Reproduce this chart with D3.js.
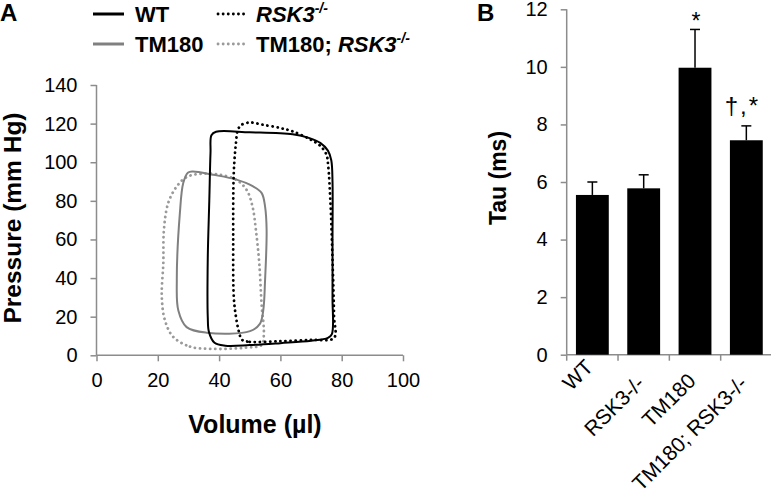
<!DOCTYPE html>
<html>
<head>
<meta charset="utf-8">
<script src="https://cdn.jsdelivr.net/npm/d3@7"></script>
<style>
  html, body { margin: 0; padding: 0; background: #fff; }
  svg { display: block; font-family: "Liberation Sans", Arial, sans-serif; }
</style>
</head>
<body>
<svg id="chart" width="771" height="489"></svg>
<script>
// ---------- Panel A data: pressure-volume loops (volume µl, pressure mm Hg) ----------
const wtLoop = [
  [38.5, 6.5], [42, 5.0], [50, 5.3], [60, 6.3], [70, 7.5], [75.5, 9.0], [76.8, 11],
  [77.0, 30], [77.0, 60], [77.0, 90], [76.6, 101], [75.5, 106], [73, 110], [69.5, 112.5],
  [64, 114.5], [50, 115.5], [39, 115.8], [37.5, 114], [37.2, 105], [36.8, 80],
  [36.3, 50], [36.3, 20], [36.7, 12]
];
const rskLoop = [
  [47.5, 8.0], [50, 7.0], [60, 7.3], [70, 8.0], [77.5, 9.0], [77.5, 20], [77.0, 50],
  [76.3, 80], [75.6, 98], [75, 104], [73, 108.5], [69.5, 112], [64, 116], [60, 117.7],
  [54, 119.5], [50, 120.6], [47, 119], [46, 116], [45.5, 110], [44.8, 95],
  [44.6, 60], [44.8, 30], [45.5, 20], [46.5, 12]
];
const tmLoop = [
  [29.4, 14.6], [35.9, 11.7], [50.1, 12.5], [53.3, 16.3], [54.4, 23.2], [55.0, 39],
  [55.5, 65], [55.0, 77], [53.9, 84], [51.1, 87.5], [45.7, 91], [38.1, 93.5],
  [31.4, 95.2], [29.8, 94.6], [28.3, 89.2], [27.2, 73.6], [26.2, 39], [26.7, 23.2]
];
const tmRskLoop = [
  [25.0, 9.6], [30.5, 4.5], [38.1, 3.3], [49.0, 4.0], [53.9, 5.4], [54.6, 11.4],
  [53.9, 25.3], [53.1, 47.7], [52.0, 65], [50.9, 77], [49.0, 85.6], [45.7, 90.8],
  [40.3, 93.5], [33.8, 94], [29.4, 92.3], [26.2, 87.5], [23.4, 78.9], [22.0, 65],
  [21.8, 47.7], [21.3, 30.4], [22.3, 18.3]
];
const volumeTicks = [0, 20, 40, 60, 80, 100];
const pressureTicks = [0, 20, 40, 60, 80, 100, 120, 140];

// ---------- Panel B data: Tau ----------
const groups = ["WT", "RSK3-/-", "TM180", "TM180; RSK3-/-"];
const tauMean = [5.55, 5.78, 9.97, 7.45];
const tauErr = [0.45, 0.47, 1.33, 0.5];
const tauMarks = ["", "", "*", "†,*"];
const tauTicks = [0, 2, 4, 6, 8, 10, 12];

const svg = d3.select("#chart");
const axisColor = "#8c8c8c";

// ================= Panel A =================
const xA = d3.scaleLinear().domain([0, 100]).range([96.5, 403]);
const yA = d3.scaleLinear().domain([0, 140]).range([355.3, 85]);

const gA = svg.append("g");
const xAxisA = gA.append("g").attr("transform", `translate(0,${yA(0)})`)
  .call(d3.axisBottom(xA).tickValues(volumeTicks).tickSize(6).tickPadding(8));
const yAxisA = gA.append("g").attr("transform", `translate(${xA(0)},0)`)
  .call(d3.axisLeft(yA).tickValues(pressureTicks).tickSize(6).tickPadding(13));
[xAxisA, yAxisA].forEach(ax => {
  ax.select(".domain").attr("stroke", axisColor).attr("stroke-width", 1.5);
  ax.selectAll(".tick line").attr("stroke", axisColor).attr("stroke-width", 1.5);
  ax.selectAll(".tick text").attr("fill", "#000").attr("font-size", 20)
    .attr("font-family", "Liberation Sans, Arial, sans-serif");
});
xAxisA.selectAll(".domain").attr("d", `M${xA(0)},0H${xA(100)}`);
yAxisA.selectAll(".domain").attr("d", `M0,${yA(0)}V${yA(140)}`);
xAxisA.selectAll(".tick text").attr("dy", "0.9em");

const lineA = d3.line().x(d => xA(d[0])).y(d => yA(d[1]))
  .curve(d3.curveCatmullRomClosed.alpha(0.5));

const loops = [
  { data: tmRskLoop, color: "#9a9a9a", dash: "0.1 5" },
  { data: tmLoop, color: "#808080", dash: null },
  { data: rskLoop, color: "#000", dash: "0.1 5" },
  { data: wtLoop, color: "#000", dash: null }
];
loops.forEach(l => {
  const p = gA.append("path").attr("d", lineA(l.data)).attr("fill", "none")
    .attr("stroke", l.color).attr("stroke-width", l.dash ? 2.8 : 2)
    .attr("stroke-linejoin", "round");
  if (l.dash) p.attr("stroke-dasharray", l.dash).attr("stroke-linecap", "round");
});

// axis titles A
gA.append("text").attr("transform", `translate(21,218) rotate(-90)`)
  .attr("text-anchor", "middle").attr("font-weight", "bold").attr("font-size", 24.5)
  .text("Pressure (mm Hg)");
gA.append("text").attr("x", 255).attr("y", 433)
  .attr("text-anchor", "middle").attr("font-weight", "bold").attr("font-size", 25)
  .text("Volume (µl)");
gA.append("text").attr("x", 0).attr("y", 21).attr("font-weight", "bold")
  .attr("font-size", 24).text("A");

// legend
const legend = [
  { x: 93, y: 14, color: "#000", dash: null, parts: [["WT", "normal"]] },
  { x: 218, y: 14, color: "#000", dash: "0.1 5", parts: [["RSK3", "italic"], ["-/-", "sup"]] },
  { x: 93, y: 44, color: "#808080", dash: null, parts: [["TM180", "normal"]] },
  { x: 218, y: 44, color: "#9a9a9a", dash: "0.1 5", parts: [["TM180; ", "normal"], ["RSK3", "italic"], ["-/-", "sup"]] }
];
legend.forEach(it => {
  const len = it.dash ? 28 : 31;
  const ln = gA.append("line").attr("x1", it.x).attr("x2", it.x + len)
    .attr("y1", it.y).attr("y2", it.y).attr("stroke", it.color)
    .attr("stroke-width", it.dash ? 2.8 : 3);
  if (it.dash) ln.attr("stroke-dasharray", it.dash).attr("stroke-linecap", "round");
  const t = gA.append("text").attr("x", it.x + (it.dash ? 38 : 42)).attr("y", it.y + 8)
    .attr("font-weight", "bold").attr("font-size", 22);
  it.parts.forEach(([s, st]) => {
    const ts = t.append("tspan").text(s);
    if (st === "italic") ts.attr("font-style", "italic");
    if (st === "sup") ts.attr("font-style", "italic").attr("font-size", 14).attr("dy", -9);
  });
});

// ================= Panel B =================
const xB = d3.scaleBand().domain(groups).range([566.7, 772]).paddingInner(0.36).paddingOuter(0.18);
const yB = d3.scaleLinear().domain([0, 12]).range([354.7, 9.3]);
const gB = svg.append("g");

const yAxisB = gB.append("g").attr("transform", `translate(566.7,0)`)
  .call(d3.axisLeft(yB).tickValues(tauTicks).tickSize(6).tickPadding(13));
yAxisB.select(".domain").attr("d", `M0,${yB(0)}V${yB(12)}`);
const xAxisB = gB.append("g").attr("transform", `translate(0,${yB(0)})`);
xAxisB.append("path").attr("class", "domain").attr("d", `M566.7,0H772`);
const boundaries = d3.range(groups.length + 1).map(i => 566.7 + i * (772 - 566.7) / groups.length);
xAxisB.selectAll("line.tk").data(boundaries).join("line").attr("class", "tk")
  .attr("x1", d => d).attr("x2", d => d).attr("y1", 0).attr("y2", 6);
[yAxisB, xAxisB].forEach(ax => {
  ax.selectAll(".domain").attr("stroke", axisColor).attr("stroke-width", 1.5).attr("fill", "none");
  ax.selectAll(".tick line, line.tk").attr("stroke", axisColor).attr("stroke-width", 1.5);
});
yAxisB.selectAll(".tick text").attr("fill", "#000").attr("font-size", 20)
  .attr("font-family", "Liberation Sans, Arial, sans-serif");

const cx = g => xB(g) + xB.bandwidth() / 2;

// bars
gB.selectAll("rect.bar").data(groups).join("rect").attr("class", "bar")
  .attr("x", d => xB(d)).attr("width", xB.bandwidth())
  .attr("y", (d, i) => yB(tauMean[i])).attr("height", (d, i) => yB(0) - yB(tauMean[i]))
  .attr("fill", "#000");

// error bars
groups.forEach((g, i) => {
  const top = yB(tauMean[i] + tauErr[i]);
  gB.append("line").attr("x1", cx(g)).attr("x2", cx(g))
    .attr("y1", yB(tauMean[i])).attr("y2", top).attr("stroke", "#000").attr("stroke-width", 1.5);
  gB.append("line").attr("x1", cx(g) - 5).attr("x2", cx(g) + 5)
    .attr("y1", top).attr("y2", top).attr("stroke", "#000").attr("stroke-width", 1.5);
  if (tauMarks[i]) {
    const big = tauMarks[i].length > 1;
    gB.append("text").attr("x", cx(g) + (big ? -4 : 1)).attr("y", top - (big ? 12 : 0))
      .attr("text-anchor", "middle").attr("font-size", big ? 24 : 23)
      .attr("letter-spacing", big ? 2 : 0).text(tauMarks[i]);
  }
});

// x labels rotated (Excel-like placement: longer labels sit a little lower)
groups.forEach(g => {
  const t = gB.append("text").attr("text-anchor", "end").attr("font-size", 21).text(g);
  const w = t.node().getComputedTextLength();
  const off = Math.min(0.42 * w, 30);
  t.attr("transform", `translate(${cx(g) + 2},${yB(0) + off}) rotate(-45)`);
});

gB.append("text").attr("transform", `translate(506,178) rotate(-90)`)
  .attr("text-anchor", "middle").attr("font-weight", "bold").attr("font-size", 23)
  .text("Tau (ms)");
gB.append("text").attr("x", 477).attr("y", 21).attr("font-weight", "bold")
  .attr("font-size", 24).text("B");
</script>
</body>
</html>
